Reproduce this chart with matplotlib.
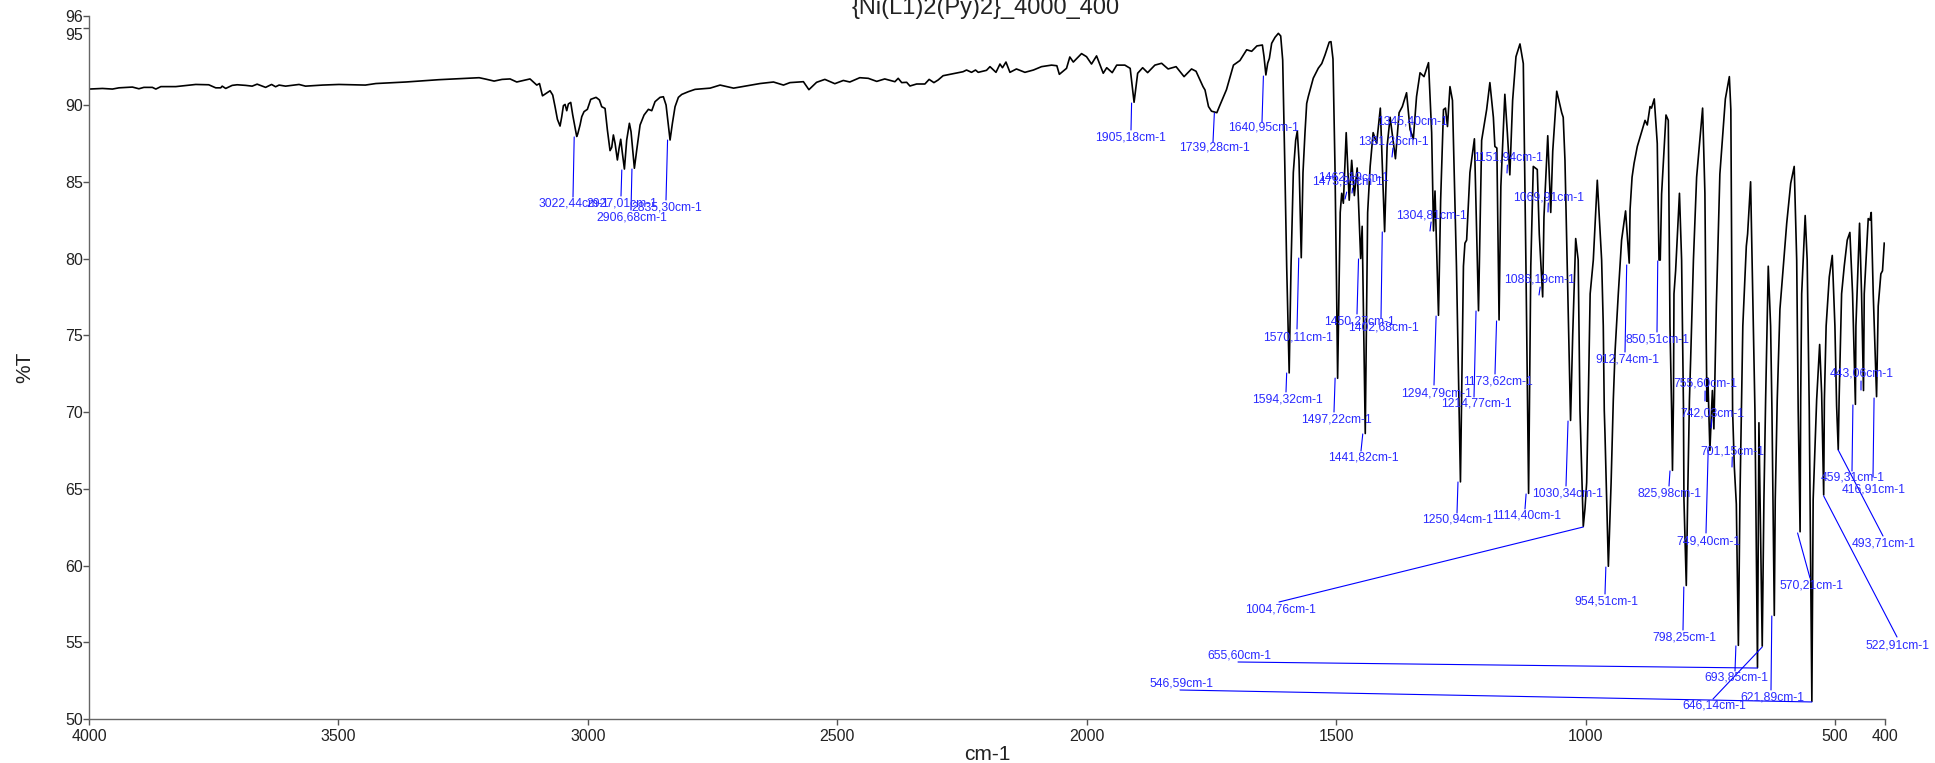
import matplotlib
matplotlib.use('Agg')
import matplotlib.pyplot as plt

plt.rcParams['font.family'] = ['Liberation Sans', 'DejaVu Sans']

# --- Spectrum ---
wavenumber = [
    4000, 3973, 3953, 3940, 3913, 3900, 3890, 3873, 3866, 3856, 3826, 3803, 3786, 3760, 3746, 3736,
    3733, 3726, 3713, 3703, 3686, 3673, 3663, 3646, 3634, 3626, 3619, 3606, 3579, 3566, 3532, 3499,
    3446, 3425, 3365, 3299, 3218, 3205, 3188, 3172, 3156, 3142.6, 3116, 3102.5, 3097, 3091,
    3075.8, 3070.5, 3065.8, 3061.1, 3055.8, 3052.4, 3049.1, 3045.7, 3042.4, 3039.1, 3034.4, 3030.4,
    3022.4, 3020.4, 3015.7, 3012.3, 3007.7, 3001, 2994.3, 2983.6, 2976.9, 2972.3, 2965.6, 2960.9,
    2955.6, 2952.2, 2948.9, 2945.5, 2940.9, 2937.5, 2934.2, 2930.8, 2926.8, 2922.2, 2916.8, 2913.5,
    2906.8, 2902.1, 2895.4, 2887.4, 2878.7, 2872, 2865.4, 2855.4, 2848.7, 2843.3, 2835.3, 2830.6,
    2825.3, 2818.6, 2811.9, 2798.6, 2785.2, 2755,
    2735, 2708, 2655, 2628, 2608, 2595, 2568, 2557, 2541.6, 2525, 2505, 2488, 2475, 2455, 2438, 2421,
    2405, 2384.6, 2378, 2371, 2361, 2354.5, 2341, 2324.5, 2316, 2306.4, 2298, 2288, 2261, 2248, 2241,
    2231, 2223, 2217.6, 2201, 2194, 2182, 2174, 2169, 2162, 2154, 2141, 2124, 2107, 2090.7, 2070.6,
    2060, 2055, 2040.6, 2034, 2027, 2010.5, 2000.5, 1990.5, 1980.4, 1967, 1960, 1949, 1940, 1923.7,
    1913, 1905.2, 1898, 1888, 1878, 1863.5, 1850, 1837, 1821, 1805, 1790, 1781, 1767, 1763, 1756,
    1750, 1739.3, 1733, 1720, 1706, 1693, 1679.5, 1669.5, 1659, 1648, 1644.7, 1641, 1637.4, 1634,
    1629.4, 1622.7, 1616, 1611.3, 1607.3, 1603, 1599.3, 1594.3, 1590.6, 1586, 1581.3, 1578, 1574.6,
    1570.1, 1566.6, 1562.6, 1559.2, 1556, 1546, 1535.9, 1529, 1522.5, 1514, 1510.5, 1506.5, 1502.5,
    1499, 1497.2, 1492,
    1489, 1485.7, 1480, 1474, 1469, 1463.7, 1458, 1451, 1448, 1441.8, 1437, 1432, 1426, 1419, 1411.6,
    1403, 1398, 1392, 1381.3, 1374, 1367.5, 1359, 1352, 1345.4, 1339, 1332, 1324, 1315, 1308.7, 1305,
    1302, 1295, 1290.7, 1285, 1281, 1277, 1272, 1267, 1259, 1251, 1245, 1242, 1238.6, 1232, 1223,
    1214.8, 1208.5, 1198.5, 1192, 1185, 1182, 1178, 1173.6, 1170, 1162, 1157, 1152, 1146.4, 1139.7,
    1131.7, 1125, 1119.7, 1114.4, 1110, 1105, 1097, 1093, 1086.2, 1083.6, 1076, 1070, 1066, 1058, 1048,
    1045, 1041.5, 1036, 1030.3, 1026, 1020, 1015, 1011.4, 1004.8, 1001.4, 998, 994.7, 991, 984.7,
    976.7, 968, 964.7, 962.7, 961.3, 954.5, 949, 944.6, 941, 934.6, 928, 920, 912.7, 911, 907, 903,
    896.5, 881, 876.5, 871, 868, 862.5, 856.5, 853, 850.5, 847.8, 839, 834.4, 831, 827.7, 826, 824,
    823, 819.7, 812, 807.7, 804, 803, 798.3, 795.6, 792, 789.6, 784, 777.6, 765.6, 761, 758.5, 757,
    755, 751, 746, 743, 738, 731, 720, 712, 709, 705.5, 702, 698, 693.9, 690.8, 687.4, 685, 678,
    675.4, 669.4, 664, 660.7, 655.6, 652.7, 646.1, 642.7, 639.3, 634, 629.3, 626.6, 621.9, 620, 616,
    610.6, 597, 589, 582, 577, 574, 570.2, 569, 567, 560, 556, 551.8, 546.6, 544, 537, 531, 527, 522.9,
    521.5, 518, 511.7, 505.7, 500.4, 497, 493.7, 492, 487, 481.7, 475.7, 470.4, 465, 459.3, 458.3,
    451, 447, 443.1, 441.6, 433.6, 430, 427.6, 423.6, 416.9, 413.6, 408.3, 405, 401.5,
]
transmittance = [
    91.04, 91.08, 91.04, 91.12, 91.17, 91.06, 91.15, 91.15, 91.04, 91.2, 91.2, 91.28, 91.34, 91.32, 91.12, 91.12,
    91.23, 91.08, 91.28, 91.32, 91.28, 91.23, 91.36, 91.15, 91.34, 91.19, 91.3, 91.23, 91.34, 91.23, 91.3, 91.34,
    91.3, 91.4, 91.5, 91.65, 91.78, 91.69, 91.56, 91.67, 91.7, 91.5, 91.7, 91.3, 91.4, 90.6,
    90.93, 90.65, 89.89, 89.07, 88.63, 89.24, 89.96, 90.04, 89.63, 90.07, 90.17, 89.35,
    87.95, 88.11, 88.7, 89.24, 89.57, 89.72, 90.37, 90.5, 90.33, 89.89, 89.78, 88.37,
    87.03, 87.24, 88.05, 87.5, 86.42, 87.18, 87.77, 86.85, 85.83, 87.72, 88.81, 88.26,
    85.88, 87.07, 88.7, 89.35, 89.72, 89.63, 90.22, 90.5, 90.54, 90.0, 87.72, 88.81,
    89.89, 90.5, 90.69, 90.87, 91.02, 91.1,
    91.3, 91.1, 91.4, 91.5, 91.3, 91.46, 91.52, 91.0, 91.48, 91.67, 91.39, 91.6, 91.5, 91.78, 91.74, 91.54,
    91.7, 91.52, 91.74, 91.46, 91.48, 91.24, 91.37, 91.37, 91.67, 91.46, 91.63, 91.91, 92.09, 92.17, 92.28,
    92.13, 92.28, 92.13, 92.26, 92.5, 92.13, 92.67, 92.43, 92.8, 92.13, 92.35, 92.13, 92.28, 92.5, 92.6,
    92.56, 92.0, 92.39, 93.13, 92.8, 93.35, 93.15, 92.67, 93.2, 92.07, 92.43, 92.11, 92.6, 92.6,
    92.39, 90.18, 92.07, 92.43, 92.11, 92.6, 92.72, 92.35, 92.5, 91.85, 92.35, 92.2, 91.2, 90.98, 89.9,
    89.6, 89.5, 90.0, 91.0, 92.6, 92.9, 93.6, 93.5, 93.85, 93.91, 93.15, 91.96, 92.72, 93.04,
    94.02, 94.41, 94.67, 94.5, 92.93, 86.0, 79.5, 72.55, 79.5, 85.6, 87.7, 88.3, 86.4,
    80.05, 85.6, 88.2, 90.1, 90.55, 91.75, 92.4, 92.7, 93.26, 94.1, 94.13, 93.0, 86.0,
    77.3, 72.2, 83.0,
    84.25, 83.6, 88.2, 83.8, 86.4, 84.1, 85.9, 80.0, 82.1, 68.6, 83.0, 86.0, 88.2, 87.5, 89.8,
    81.75, 87.3, 89.2, 86.5, 89.5, 89.9, 90.8, 88.4, 87.8, 90.55, 92.1, 91.85, 92.76, 88.2, 81.8,
    84.4, 76.3, 83.8, 89.7, 89.8, 88.6, 91.2, 90.3, 79.5, 65.45, 79.5, 81.0, 81.2, 85.6, 87.8,
    76.6, 87.7, 89.7, 91.46, 89.2, 87.3, 87.2, 76.0, 84.7, 90.7, 88.2, 85.45, 90.3, 93.15,
    93.98, 92.7, 79.5, 64.7, 79.5, 86.0, 85.8, 81.6, 77.5, 82.7, 88.0, 83.0, 87.0, 90.9, 89.5,
    89.2, 86.4, 78.0, 69.45, 75.0, 81.3, 79.9, 70.1, 62.55, 63.7, 65.4, 70.8, 77.7, 79.9,
    85.1, 79.9, 75.6, 70.1, 68.6, 59.95, 65.4, 70.8, 74.0, 77.7, 81.2, 83.1, 79.7, 83.2, 85.3, 86.2,
    87.3, 89.0, 88.7, 89.9, 89.8, 90.4, 87.5, 79.9, 79.9, 84.2, 89.35, 89.0, 75.6, 70.1, 66.2, 70.8,
    77.7, 79.2, 84.25, 79.9, 70.4, 64.3, 58.7, 64.3, 70.8, 73.4, 79.9, 85.3, 89.8, 84.25, 75.0, 70.7,
    72.2, 67.5, 71.4, 68.9, 77.0, 85.5, 90.4, 91.85, 89.7, 70.1, 66.4, 64.0, 54.8, 64.3, 70.8, 75.6, 80.8,
    81.6, 85.0, 75.6, 70.1, 53.35, 69.3, 54.75, 64.3, 70.8, 79.5, 75.6, 70.1, 56.75, 64.3, 70.8,
    76.7, 82.3, 84.9, 86.0, 79.9, 70.1, 62.2, 70.8, 77.7, 82.8, 79.9, 70.1, 51.15, 64.3, 70.8, 74.4, 71.2, 64.6,
    70.8, 75.6, 78.8, 80.2, 75.6, 70.4, 67.55, 70.8, 77.7, 79.5, 81.2, 81.7, 77.7, 70.5, 75.6,
    82.3, 77.7, 71.4, 77.7, 82.6, 82.5, 83.0, 77.7, 71.0, 76.9, 79.0, 79.2, 81.0,
]

# --- Peak picks ---
peak_labels = [
    '3022,44cm-1', '2927,01cm-1', '2906,68cm-1', '2835,30cm-1', '1905,18cm-1', '1739,28cm-1',
    '1640,95cm-1', '1594,32cm-1', '1570,11cm-1', '1497,22cm-1', '1473,95cm-1', '1462,19cm-1',
    '1450,27cm-1', '1441,82cm-1', '1402,68cm-1', '1381,26cm-1', '1345,40cm-1', '1304,81cm-1',
    '1294,79cm-1', '1250,94cm-1', '1214,77cm-1', '1173,62cm-1', '1151,94cm-1', '1114,40cm-1',
    '1086,19cm-1', '1069,91cm-1', '1030,34cm-1', '1004,76cm-1', '954,51cm-1', '912,74cm-1',
    '850,51cm-1', '825,98cm-1', '798,25cm-1', '755,60cm-1', '742,03cm-1', '749,40cm-1',
    '701,15cm-1', '693,85cm-1', '655,60cm-1', '646,14cm-1', '621,89cm-1', '570,21cm-1',
    '546,59cm-1', '522,91cm-1', '493,71cm-1', '459,31cm-1', '443,06cm-1', '416,91cm-1',
]
peak_wn = [
    3022.44, 2927.01, 2906.68, 2835.30, 1905.18, 1739.28, 1640.95, 1594.32, 1570.11, 1497.22, 1473.95, 1462.19,
    1450.27, 1441.82, 1402.68, 1381.26, 1345.40, 1304.81, 1294.79, 1250.94, 1214.77, 1173.62, 1151.94, 1114.40,
    1086.19, 1069.91, 1030.34, 1004.76, 954.51, 912.74, 850.51, 825.98, 798.25, 755.60, 742.03, 749.40,
    701.15, 693.85, 655.60, 646.14, 621.89, 570.21, 546.59, 522.91, 493.71, 459.31, 443.06, 416.91,
]
peak_t = [
    87.92, 85.77, 85.83, 87.72, 90.13, 89.48, 91.89, 72.54, 80.03, 72.21, 84.33, 84.59,
    79.97, 68.57, 81.73, 87.2, 88.5, 82.38, 76.25, 65.44, 76.58, 75.93, 86.09, 64.66,
    78.14, 83.62, 69.41, 62.51, 59.9, 79.58, 79.84, 66.16, 58.6, 71.37, 69.54, 67.52,
    67.07, 54.76, 53.32, 54.69, 56.71, 62.12, 51.11, 64.53, 67.52, 70.46, 72.02, 70.91,
]

x_ticks = [4000, 3500, 3000, 2500, 2000, 1500, 1000, 500, 400]
y_ticks = [50, 55, 60, 65, 70, 75, 80, 85, 90, 95, 95.8]
y_tick_labels = ['50', '55', '60', '65', '70', '75', '80', '85', '90', '95', '96']

# label centre and far end of each leader, in picture pixels from the top left
label_pos = [
    (574, 204), (622, 203), (632, 218), (667, 207), (1131, 138), (1214, 148),
    (1264, 128), (1287, 399), (1298, 337), (1336, 420), (1347, 182), (1353, 177),
    (1359, 321), (1363, 458), (1383, 328), (1393, 141), (1412, 121), (1431, 215),
    (1437, 393), (1458, 520), (1476, 403), (1498, 381), (1508, 158), (1527, 516),
    (1540, 279), (1549, 197), (1568, 494), (1281, 610), (1606, 601), (1627, 360),
    (1658, 339), (1670, 493), (1684, 637), (1705, 384), (1712, 413), (1708, 541),
    (1732, 451), (1736, 678), (1239, 656), (1714, 706), (1772, 697), (1812, 586),
    (1181, 684), (1898, 645), (1884, 544), (1853, 478), (1862, 374), (1874, 489),
]
leader_end = [
    (573, 197), (621, 196), (631, 210), (666, 200), (1131, 130), (1213, 142),
    (1262, 122), (1286, 392), (1297, 329), (1334, 412), (1345, 199), (1352, 193),
    (1357, 314), (1361, 451), (1381, 318), (1392, 157), (1411, 137), (1430, 231),
    (1434, 385), (1457, 513), (1474, 397), (1495, 374), (1507, 173), (1525, 509),
    (1539, 295), (1548, 212), (1566, 486), (1279, 602), (1605, 594), (1625, 352),
    (1657, 332), (1669, 486), (1683, 630), (1705, 401), (1711, 428), (1706, 533),
    (1732, 467), (1735, 671), (1238, 662), (1713, 699), (1771, 690), (1810, 578),
    (1180, 690), (1897, 637), (1883, 536), (1852, 471), (1861, 390), (1873, 477),
]
# leaders that start right on the peak, the rest start a little to its left
on_peak = ['1004,76cm-1', '655,60cm-1', '646,14cm-1', '546,59cm-1', '522,91cm-1', '493,71cm-1']

W, H = 1935, 763
fig = plt.figure(figsize=(W / 100, H / 100), dpi=100, facecolor='white')
ax = fig.add_axes([89 / W, 1 - 719 / H, 1796 / W, 703 / H])

ax.plot(wavenumber, transmittance, color='black', lw=1.2, solid_joinstyle='round', zorder=2)

blue = '#2a2aff'
for i, text in enumerate(peak_labels):
    tip_x = peak_wn[i] if text in on_peak else peak_wn[i] + 5
    ex, ey = leader_end[i]
    ax.annotate('', xy=(tip_x, peak_t[i]), xycoords='data',
                xytext=(ex, H - ey), textcoords='figure pixels',
                arrowprops=dict(arrowstyle='-', color='#0000ff', lw=0.8, shrinkA=0, shrinkB=0),
                annotation_clip=False, zorder=3)
    lx, ly = label_pos[i]
    ax.annotate(text, xy=(lx, H - ly), xycoords='figure pixels', ha='center', va='center',
                fontsize=8.7, color=blue, annotation_clip=False, zorder=4)

ax.set_xlim(4000, 400)
ax.set_ylim(50, 95.8)
ax.set_xticks(x_ticks)
ax.set_yticks(y_ticks)
ax.set_yticklabels(y_tick_labels)
ax.tick_params(axis='both', labelsize=11.5, length=4, width=1, color='#555555', labelcolor='#222222')
ax.tick_params(axis='x', pad=3)
ax.tick_params(axis='y', pad=0.5)
ax.get_yticklabels()[9].set_verticalalignment('top')

for side in ['top', 'right']:
    ax.spines[side].set_visible(False)
for side in ['left', 'bottom']:
    ax.spines[side].set_color('#666666')
    ax.spines[side].set_linewidth(1)

ax.set_xlabel('cm-1', fontsize=15, color='#222222')
ax.xaxis.set_label_coords(0.5, -0.037)
ax.set_ylabel('%T', fontsize=15, color='#222222', va='center')
ax.yaxis.set_label_coords(-0.0356, 0.5)

fig.text(986 / W, 1 - 14 / H, '{Ni(L1)2(Py)2}_4000_400', fontsize=17, color='#222222',
         ha='center', va='baseline')

fig.savefig('out.png', dpi=100, facecolor='white')
plt.close()
